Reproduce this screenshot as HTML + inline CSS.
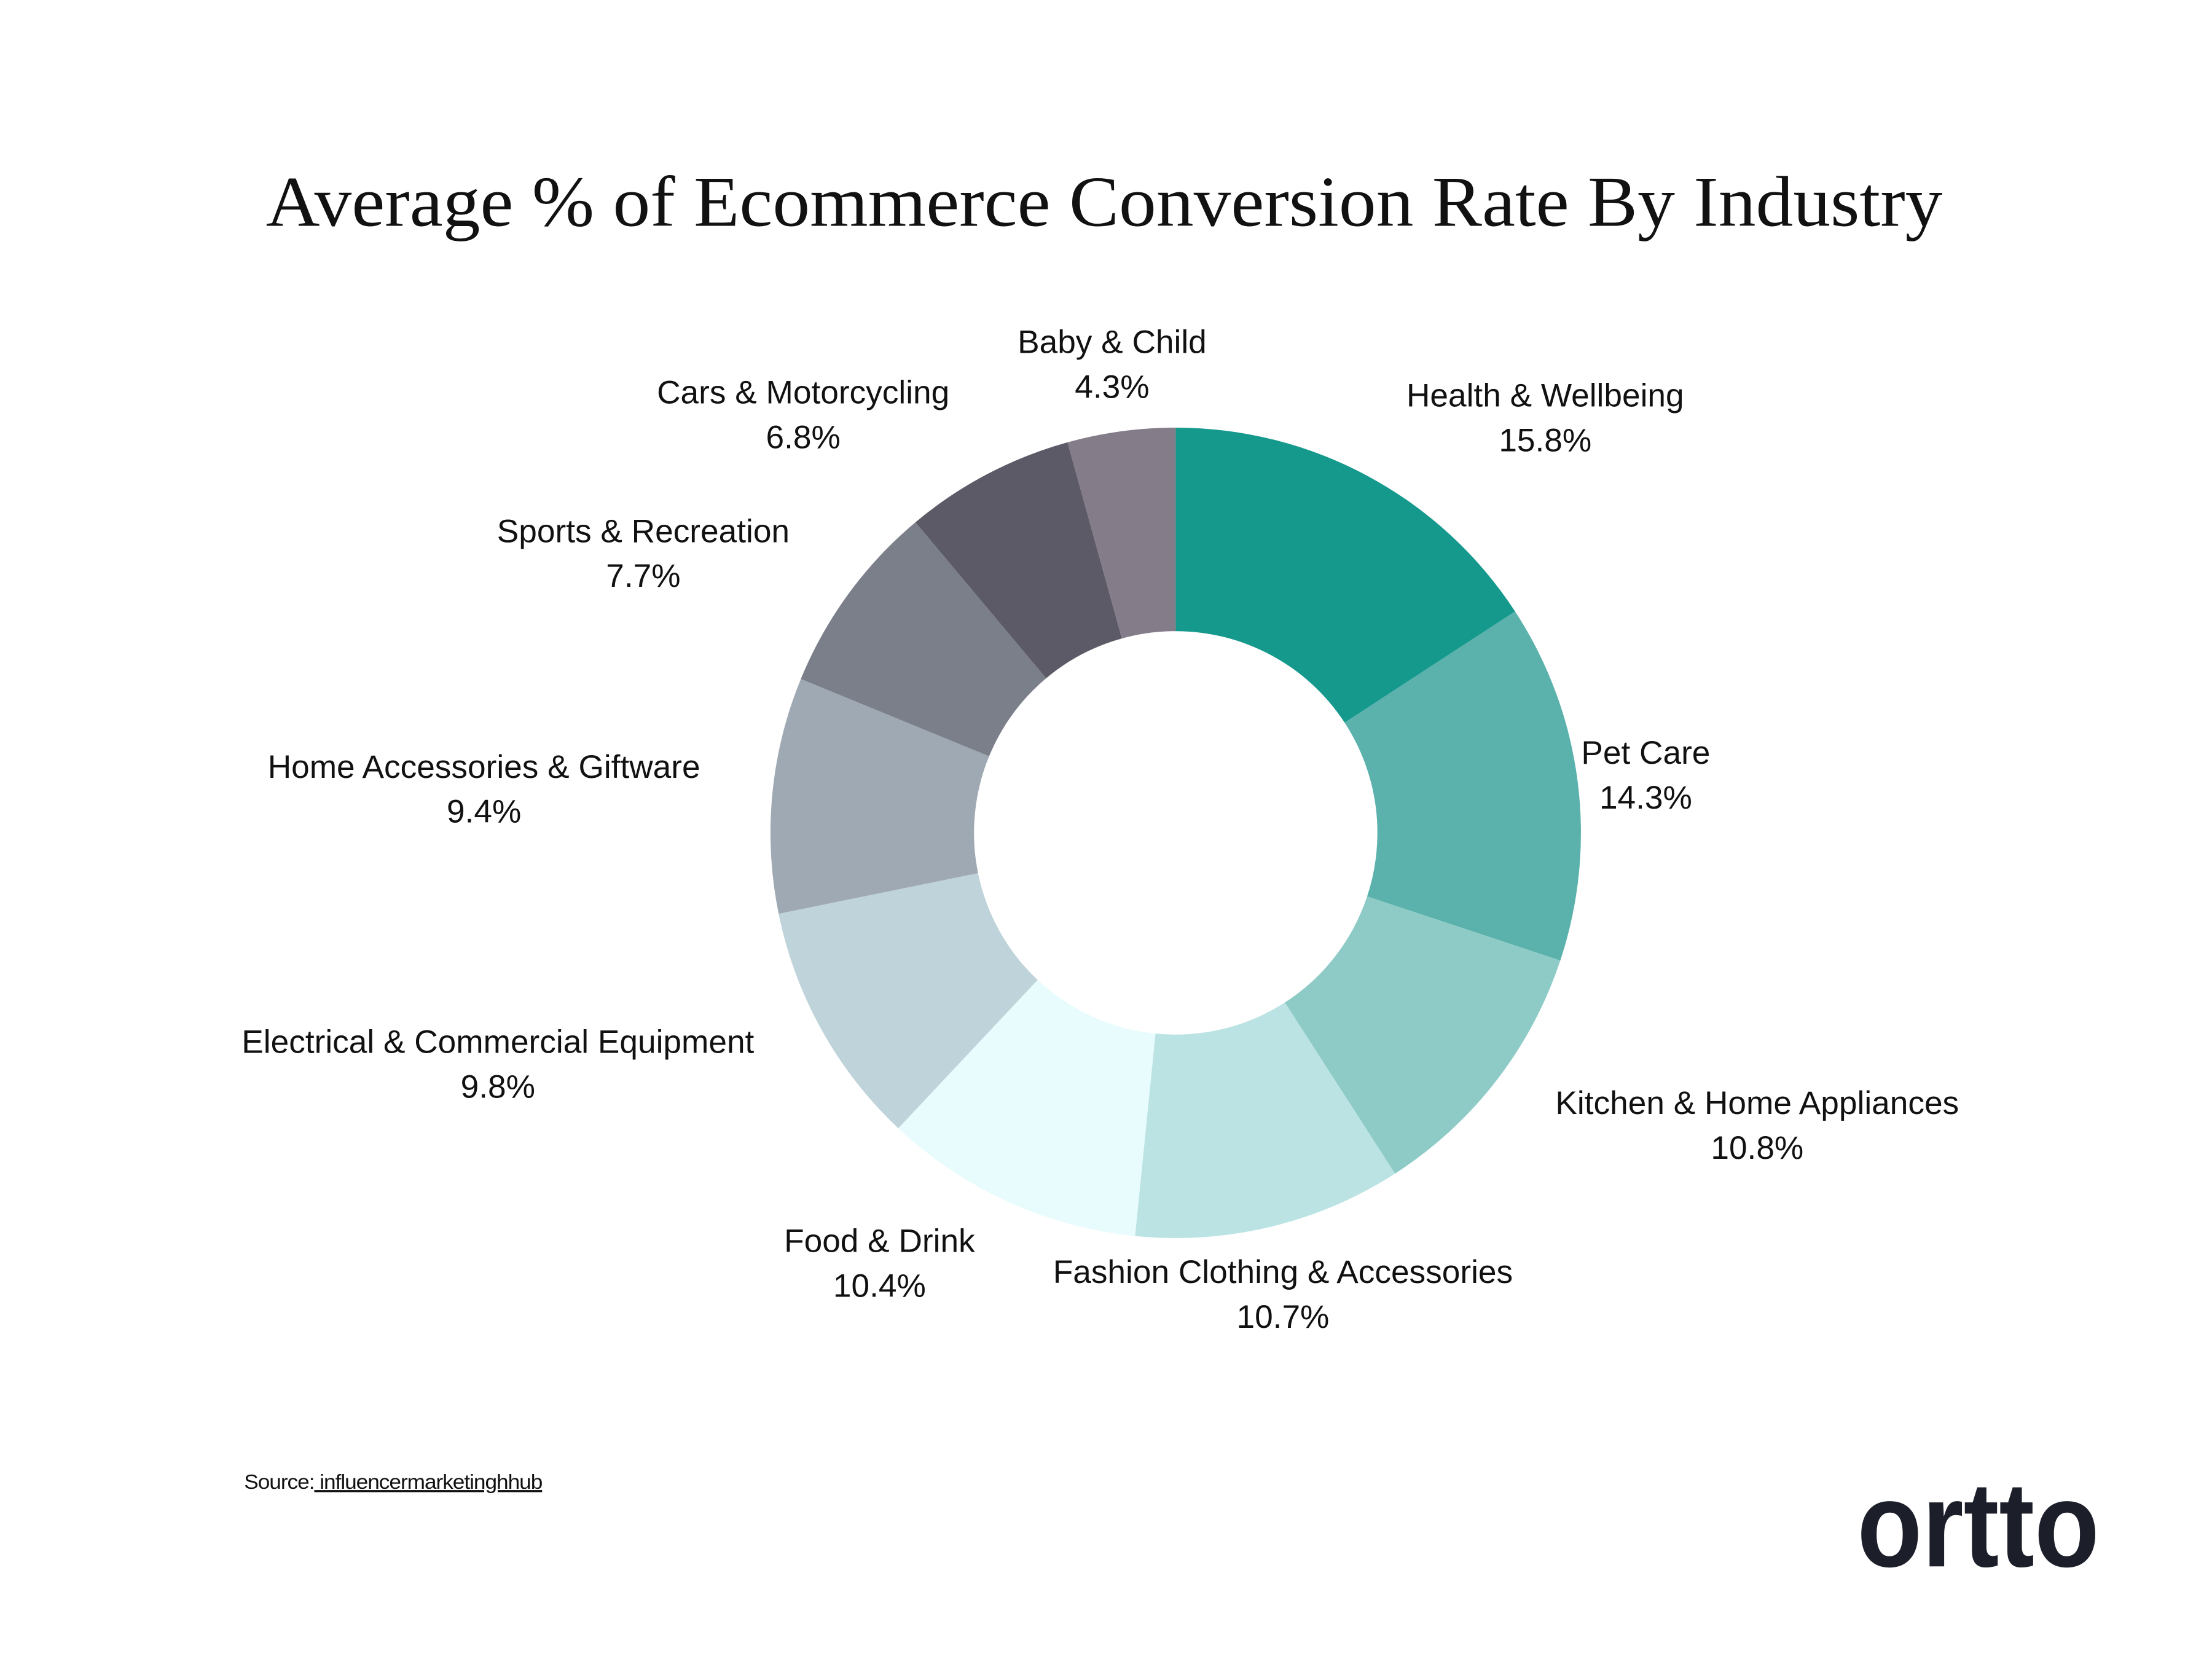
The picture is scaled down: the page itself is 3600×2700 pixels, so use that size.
<!DOCTYPE html>
<html><head><meta charset="utf-8"><style>
html,body{margin:0;padding:0;background:#fff;}
svg{display:block;}
text{font-family:"Liberation Sans",sans-serif;fill:#111;}
</style></head><body>
<svg id="chart" width="3600" height="2700" viewBox="0 0 3600 2700" xmlns="http://www.w3.org/2000/svg">
<rect width="3600" height="2700" fill="#fff"/>
<g transform="scale(0.9858)">
<text x="1823" y="373" text-anchor="middle" font-size="118" textLength="2768" lengthAdjust="spacingAndGlyphs" style="font-family:'Liberation Serif',serif">Average % of Ecommerce Conversion Rate By Industry</text>
<g id="slices"></g>
<g id="labels"></g>
<text x="403" y="2458" font-size="34" textLength="492" lengthAdjust="spacingAndGlyphs" style="letter-spacing:-1px">Source:<tspan text-decoration="underline"> influencermarketinghhub</tspan></text>
<text x="3066" y="2586" font-size="200" font-weight="bold" textLength="400" lengthAdjust="spacingAndGlyphs" style="fill:#1c1f2a">ortto</text>
</g>
</svg>
<script>
const categories = ["Health & Wellbeing","Pet Care","Kitchen & Home Appliances","Fashion Clothing & Accessories","Food & Drink","Electrical & Commercial Equipment","Home Accessories & Giftware","Sports & Recreation","Cars & Motorcycling","Baby & Child"];
const values = [15.8,14.3,10.8,10.7,10.4,9.8,9.4,7.7,6.8,4.3];
const valueLabels = ["15.8%","14.3%","10.8%","10.7%","10.4%","9.8%","9.4%","7.7%","6.8%","4.3%"];
const colors = ["#16998d","#5bb1ab","#8ecbc7","#bbe3e3","#e8fcfd","#bfd3da","#9ea9b3","#7b7f8a","#5b5a66","#847c88"];
const labelPos = [[2551,671],[2717,1261],[2901,1839],[2118,2118],[1452,2067],[822,1738],[799,1284],[1062,895],[1326,666],[1836,583]];
const cx=1941, cy=1375, R=669, r=333;
const NS="http://www.w3.org/2000/svg";
const total = values.reduce((a,b)=>a+b,0);
function angle(v){return v/total*2*Math.PI;}
function pt(a,rad){return [cx+rad*Math.sin(a), cy-rad*Math.cos(a)];}
const gs=document.getElementById('slices'), gl=document.getElementById('labels');
let acc=0;
values.forEach((v,i)=>{
  const a0=angle(acc), a1=angle(acc+v); acc+=v;
  const p0=pt(a0,R),p1=pt(a1,R),q1=pt(a1,r),q0=pt(a0,r);
  const large=(a1-a0)>Math.PI?1:0;
  const p=document.createElementNS(NS,'path');
  p.setAttribute('d',`M${p0[0]},${p0[1]}A${R},${R} 0 ${large} 1 ${p1[0]},${p1[1]}L${q1[0]},${q1[1]}A${r},${r} 0 ${large} 0 ${q0[0]},${q0[1]}Z`);
  p.setAttribute('fill',colors[i]);
  
  
  gs.appendChild(p);
  const t=document.createElementNS(NS,'text');
  t.setAttribute('x',labelPos[i][0]);t.setAttribute('y',labelPos[i][1]);
  t.setAttribute('text-anchor','middle');t.setAttribute('font-size','54');
  t.textContent=categories[i];
  
  
  gl.appendChild(t);
  const t2=document.createElementNS(NS,'text');
  t2.setAttribute('x',labelPos[i][0]);t2.setAttribute('y',labelPos[i][1]+74);
  t2.setAttribute('text-anchor','middle');t2.setAttribute('font-size','54');
  t2.textContent=valueLabels[i];
  
  
  gl.appendChild(t2);
});
</script>
</body></html>
